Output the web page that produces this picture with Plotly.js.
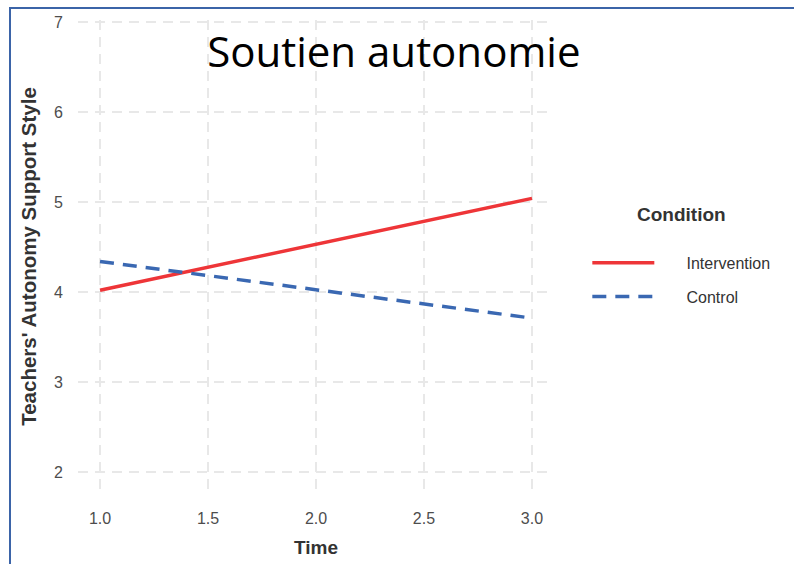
<!DOCTYPE html>
<html>
<head>
<meta charset="utf-8">
<script src="https://cdn.plot.ly/plotly-3.0.1.min.js"></script>
<style>
  html, body { margin: 0; padding: 0; background: #fff; }
  #chart { width: 794px; height: 564px; }
  #frame { position: absolute; left: 9px; top: 7px; width: 790px; height: 560px;
           border-left: 2px solid #3b64a8; border-top: 2px solid #3b64a8; pointer-events: none; }
</style>
</head>
<body>
<div id="chart"></div>
<div id="frame"></div>
<script>
const time = [1, 3];
const intervention = [4.02, 5.04];
const control = [4.34, 3.71];
const seriesNames = ['Intervention', 'Control'];
const xTicks = [1.0, 1.5, 2.0, 2.5, 3.0];
const xTickLabels = ['1.0', '1.5', '2.0', '2.5', '3.0'];
const yTicks = [2, 3, 4, 5, 6, 7];

const pad = '\u2003\u2002\u2009';
const traces = [
  { x: time, y: intervention, name: pad + seriesNames[0], mode: 'lines', legendgroup: 'a',
    line: { color: '#EE3538', width: 3.5 } },
  { x: time, y: control, name: pad + seriesNames[1], mode: 'lines', legendgroup: 'b',
    line: { color: '#3A68B2', width: 3.5, dash: '14px,9px' } }
];

const layout = {
  width: 794, height: 564,
  margin: { l: 78, r: 240, t: 20, b: 71 },
  paper_bgcolor: '#ffffff', plot_bgcolor: '#ffffff',
  font: { family: 'Liberation Sans, Arial, sans-serif', color: '#4d4d4d' },
  title: { text: 'Soutien autonomie', x: 0.496, xanchor: 'center', xref: 'container',
           y: 0.908, yanchor: 'middle', yref: 'container',
           font: { family: 'Open Sans, sans-serif', size: 42, color: '#000000' } },
  xaxis: {
    range: [0.898, 3.102], tickvals: xTicks, ticktext: xTickLabels,
    showgrid: true, gridcolor: '#e8e8e8', gridwidth: 1.5, griddash: '10px,7px',
    zeroline: false, showline: false, ticks: '', ticklabelstandoff: 14,
    tickfont: { size: 16, color: '#4d4d4d' },
    title: { text: 'Time', standoff: 14, font: { size: 19, color: '#333333', weight: 'bold' } }
  },
  yaxis: {
    range: [1.767, 7.022], tickvals: yTicks,
    showgrid: true, gridcolor: '#e8e8e8', gridwidth: 1.5, griddash: '10px,7px',
    zeroline: false, showline: false, ticks: '', ticklabelstandoff: 14,
    tickfont: { size: 16, color: '#4d4d4d' },
    title: { text: "Teachers' Autonomy Support Style", standoff: 11,
             font: { size: 20.5, color: '#333333', weight: 'bold' } }
  },
  showlegend: true,
  legend: {
    x: 1.07, xanchor: 'left', y: 0.627, yanchor: 'top',
    traceorder: 'grouped', tracegroupgap: 10, itemwidth: 62,
    font: { size: 16, color: '#333333' },
    title: { text: 'Condition<br>\u00a0', side: 'top center', font: { size: 19, color: '#333333', weight: 'bold' } }
  }
};

Plotly.newPlot('chart', traces, layout, { displayModeBar: false, staticPlot: true });
</script>
</body>
</html>
